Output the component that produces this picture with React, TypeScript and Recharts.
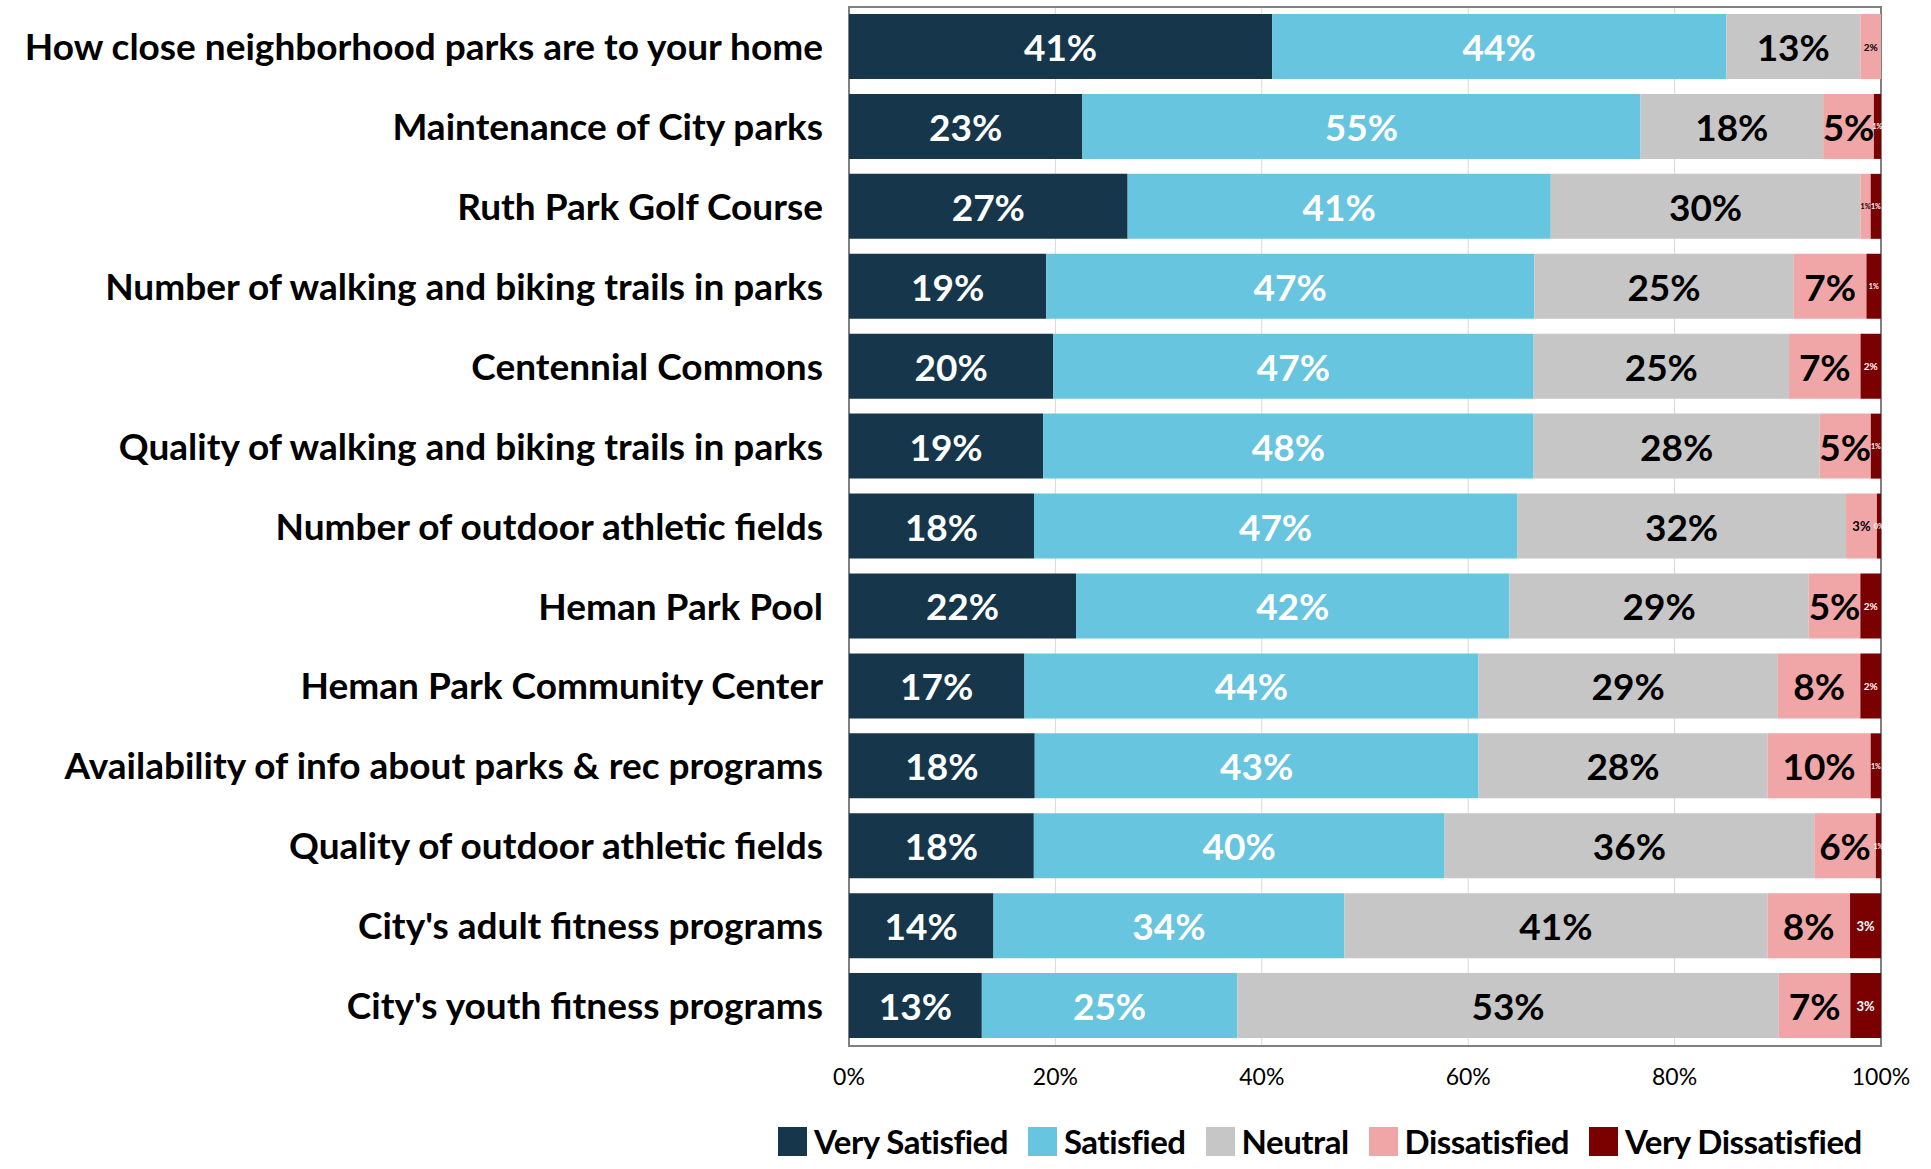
import React from 'react';
import { BarChart, Bar, XAxis, YAxis, CartesianGrid, Legend, LabelList, ReferenceArea } from 'recharts';

document.body.style.margin = '0';

const categories = [
  'How close neighborhood parks are to your home',
  'Maintenance of City parks',
  'Ruth Park Golf Course',
  'Number of walking and biking trails in parks',
  'Centennial Commons',
  'Quality of walking and biking trails in parks',
  'Number of outdoor athletic fields',
  'Heman Park Pool',
  'Heman Park Community Center',
  'Availability of info about parks & rec programs',
  'Quality of outdoor athletic fields',
  "City's adult fitness programs",
  "City's youth fitness programs",
];

const verySatisfied = [41, 23, 27, 19, 20, 19, 18, 22, 17, 18, 18, 14, 13];
const satisfied = [44, 55, 41, 47, 47, 48, 47, 42, 44, 43, 40, 34, 25];
const neutral = [13, 18, 30, 25, 25, 28, 32, 29, 29, 28, 36, 41, 53];
const dissatisfied = [2, 5, 1, 7, 7, 5, 3, 5, 8, 10, 6, 8, 7];
const veryDissatisfied = [0, 0.7, 1, 1.4, 2, 1, 0.4, 2, 2, 1, 0.5, 3, 3];

const xTicks = [0, 0.2, 0.4, 0.6, 0.8, 1];

const series = [
  { key: 'vs', name: 'Very Satisfied', values: verySatisfied, color: '#16364B', text: '#ffffff' },
  { key: 's', name: 'Satisfied', values: satisfied, color: '#67C5DF', text: '#ffffff' },
  { key: 'n', name: 'Neutral', values: neutral, color: '#C6C6C6', text: '#000000' },
  { key: 'd', name: 'Dissatisfied', values: dissatisfied, color: '#F0A6A6', text: '#000000' },
  { key: 'vd', name: 'Very Dissatisfied', values: veryDissatisfied, color: '#7B0000', text: '#ffffff' },
];

const data = categories.map((name, i) => {
  const row: Record<string, string | number> = { name };
  series.forEach((s) => {
    row[s.key] = s.values[i];
  });
  return row;
});

const FONT = 'Lato, "Open Sans", sans-serif';

// label size depends on how big the segment is
function labelSize(v: number) {
  if (v >= 5) return 37;
  if (v >= 3) return 13;
  if (v >= 2) return 10;
  return 7;
}

function makeLabel(fill: string) {
  return (props: any) => {
    const vb = props.viewBox || {};
    const x = props.x ?? vb.x;
    const y = props.y ?? vb.y;
    const w = props.width ?? vb.width;
    const h = props.height ?? vb.height;
    const v = Number(props.value);
    if (!Number.isFinite(v) || v === 0) return null;
    return (
      <text
        x={x + w / 2}
        y={y + h / 2}
        textAnchor="middle"
        dominantBaseline="central"
        fill={fill}
        fontSize={labelSize(v)}
        fontWeight={700}
        fontFamily={FONT}
      >
        {`${Math.round(v)}%`}
      </text>
    );
  };
}

function renderLegend() {
  return (
    <div
      style={{
        display: 'flex',
        flexWrap: 'nowrap',
        whiteSpace: 'nowrap',
        paddingLeft: 778,
        paddingTop: 14,
        fontFamily: FONT,
        lineHeight: '36px',
      }}
    >
      {series.map((s) => (
        <div key={s.key} style={{ display: 'flex', alignItems: 'center', marginRight: 20, flexShrink: 0 }}>
          <span style={{ width: 29, height: 29, background: s.color, display: 'inline-block', marginRight: 7 }} />
          <span style={{ fontSize: 33, fontWeight: 700, color: '#000', letterSpacing: -0.5 }}>{s.name}</span>
        </div>
      ))}
    </div>
  );
}

export default function App() {
  return (
    <div style={{ width: 1931, height: 1169, background: '#fff', overflow: 'hidden' }}>
      <BarChart
        width={1931}
        height={1169}
        data={data}
        layout="vertical"
        stackOffset="expand"
        barSize={65}
        margin={{ top: 7, right: 50, bottom: 0, left: 0 }}
      >
        <CartesianGrid horizontal={false} stroke="#d9d9d9" />
        <XAxis
          type="number"
          domain={[0, 1]}
          ticks={xTicks}
          tickFormatter={(v: number) => `${Math.round(v * 100)}%`}
          axisLine={false}
          tickLine={false}
          tickSize={0}
          tickMargin={23}
          height={63}
          tick={{ fill: '#000', fontSize: 23, fontFamily: FONT }}
        />
        <YAxis
          type="category"
          dataKey="name"
          width={849}
          axisLine={false}
          tickLine={false}
          tickSize={0}
          tickMargin={26}
          interval={0}
          tick={{ fill: '#000', fontSize: 37, fontWeight: 700, fontFamily: FONT }}
        />
        <Legend
          verticalAlign="bottom"
          height={60}
          wrapperStyle={{ left: 0, width: 1931 }}
          content={renderLegend}
        />
        {series.map((s) => (
          <Bar key={s.key} dataKey={s.key} name={s.name} stackId="a" fill={s.color} isAnimationActive={false}>
            <LabelList dataKey={s.key} content={makeLabel(s.text)} />
          </Bar>
        ))}
        <ReferenceArea x1={0} x2={1} fill="none" stroke="#808080" strokeWidth={2} ifOverflow="visible" />
      </BarChart>
    </div>
  );
}
